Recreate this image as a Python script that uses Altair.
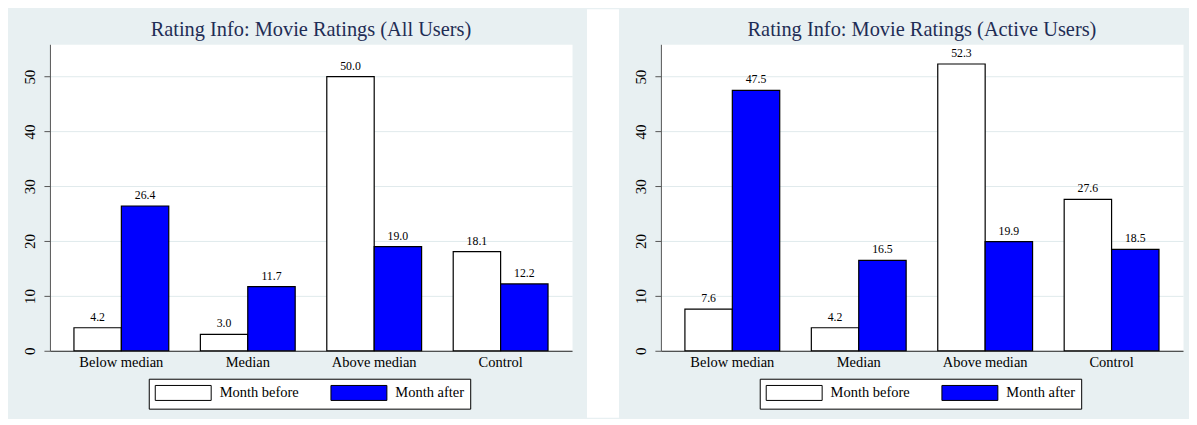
import altair as alt
import pandas as pd

categories = ["Below median", "Median", "Above median", "Control"]
series = ["Month before", "Month after"]
all_before = [4.2, 3.0, 50.0, 18.1]
all_after = [26.4, 11.7, 19.0, 12.2]
active_before = [7.6, 4.2, 52.3, 27.6]
active_after = [47.5, 16.5, 19.9, 18.5]
y_ticks = [0, 10, 20, 30, 40, 50]
titles = ["Rating Info: Movie Ratings (All Users)",
          "Rating Info: Movie Ratings (Active Users)"]

FONT = "Liberation Serif"
W, H = 523, 307
BG = "#e8f0f2"
TITLE_COLOR = "#1f2d55"


def frame(before, after):
    rows = []
    for c, b, a in zip(categories, before, after):
        rows.append({"cat": c, "series": series[0], "value": b})
        rows.append({"cat": c, "series": series[1], "value": a})
    return pd.DataFrame(rows)


ONE = pd.DataFrame({"k": [0]})


def deco_rect(x0, x1, y0, y1, color, opacity):
    return alt.Chart(ONE).mark_rect(fill=color, opacity=opacity, strokeWidth=0).encode(
        x=alt.value(x0), x2=alt.value(x1), y=alt.value(y0), y2=alt.value(y1)
    )


def title_mark(text):
    return alt.Chart(ONE).mark_text(font=FONT, fontSize=20.4, color=TITLE_COLOR,
                                    align="center", baseline="alphabetic").encode(
        x=alt.value(W / 2), y=alt.value(-8.5), text=alt.value(text)
    )


def panel(before, after, title, decor):
    df = frame(before, after)
    x = alt.X("cat:N", sort=categories,
              scale=alt.Scale(paddingInner=0.25, paddingOuter=0.19),
              axis=alt.Axis(title=None, labelAngle=0, ticks=False, domainColor="#222",
                            domainWidth=1, labelFont=FONT, labelFontSize=14.5,
                            labelColor="black", labelPadding=5, grid=False))
    xo = alt.XOffset("series:N", sort=series,
                     scale=alt.Scale(paddingInner=0, paddingOuter=0))
    y = alt.Y("value:Q", scale=alt.Scale(domain=[0, 55.9], nice=False, zero=True),
              axis=alt.Axis(title=None, values=y_ticks, grid=True, gridColor="#e0eaec",
                            gridWidth=1, labelAngle=270, labelAlign="center",
                            labelBaseline="bottom", labelFont=FONT, labelFontSize=15,
                            labelColor="black", labelPadding=6, tickSize=6,
                            tickColor="#555", domainColor="#555"))
    base = alt.Chart(df)
    bars = base.mark_bar(stroke="black", strokeWidth=1.2).encode(
        x=x, xOffset=xo, y=y,
        fill=alt.Fill("series:N", sort=series,
                      scale=alt.Scale(domain=series, range=["#ffffff", "#0000ff"]),
                      legend=alt.Legend(title=None, orient="none", legendX=99, legendY=335,
                                        direction="horizontal",
                                        symbolType="M-1,-1L6.47,-1L6.47,1L-1,1Z",
                                        symbolSize=225, symbolStrokeColor="black",
                                        symbolStrokeWidth=1, symbolOpacity=1,
                                        labelFont=FONT, labelFontSize=14.5,
                                        labelColor="black", labelOffset=49,
                                        columnPadding=29, strokeColor="black",
                                        fillColor="white", padding=6)),
    )
    labels = base.mark_text(font=FONT, fontSize=11.8, color="black",
                            baseline="alphabetic", dy=-7).encode(
        x=x, xOffset=xo, y=y, text=alt.Text("value:Q", format=".1f"))
    layers = [deco_rect(*d) for d in decor] + [bars, labels, title_mark(title)]
    return alt.layer(*layers).properties(width=W, height=H)


left = panel(all_before, all_after, titles[0], [
    (W + 15, W + 47, -35, H + 67, "white", 1),
    (-41, -40, -35, -34, "white", 0),
])
right = panel(active_before, active_after, titles[1], [
    (W + 4, W + 5, -35, -34, "white", 0),
])

chart = alt.hconcat(left, right, spacing=89, bounds="flush").resolve_scale(
    fill="independent", xOffset="independent"
).properties(background=BG, padding=0).configure_view(fill="white", stroke="transparent")

chart.save("out.html", embed_options={"renderer": "svg", "actions": False})
